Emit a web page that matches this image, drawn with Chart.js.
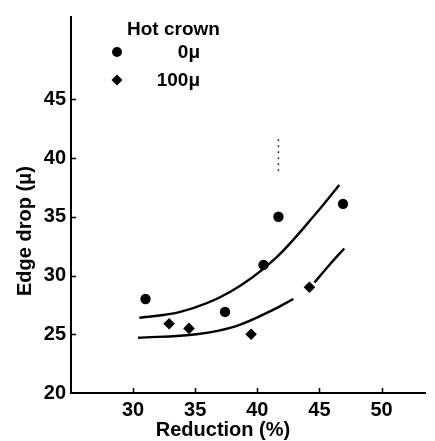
<!DOCTYPE html>
<html>
<head>
<meta charset="utf-8">
<script src="https://cdn.jsdelivr.net/npm/chart.js@4/dist/chart.umd.min.js"></script>
<style>
html,body{margin:0;padding:0;background:#fff;}
#wrap{width:435px;height:441px;position:relative;}
</style>
</head>
<body>
<div id="wrap"><canvas id="c" width="435" height="441"></canvas></div>
<script>
// ---- data ----
const xTicks = [30, 35, 40, 45, 50];
const yTicks = [20, 25, 30, 35, 40, 45];

const crown0X = [31.0, 37.4, 40.5, 41.7, 46.9];
const crown0Y = [28.0, 26.9, 30.9, 35.0, 36.1];

const crown100X = [32.9, 34.5, 39.5, 44.2];
const crown100Y = [25.9, 25.5, 25.0, 29.0];

const upperFitX = [30.5, 33.8, 37.8, 41.5, 44.7, 46.6];
const upperFitY = [26.4, 26.9, 28.6, 31.5, 35.25, 37.7];

const lowerFitAX = [30.4, 35.1, 38.3, 41.3, 42.9];
const lowerFitAY = [24.7, 25.0, 25.7, 27.1, 28.0];
const lowerFitBX = [44.6, 45.8, 47.0];
const lowerFitBY = [29.4, 30.9, 32.3];

const dotMarkX = [41.7, 41.7];
const dotMarkY = [41.6, 38.6];

const legendTitle = 'Hot crown';
const legendLabels = ['0\u03bc', '100\u03bc'];
const xTitle = 'Reduction (%)';
const yTitle = 'Edge drop (\u03bc)';

function pts(xs, ys){ return xs.map((x,i)=>({x:x, y:ys[i]})); }

const FONT = '"Liberation Sans", Arial, sans-serif';

const decor = {
  id: 'decor',
  afterDraw(chart){
    const ctx = chart.ctx;
    const xs = chart.scales.x, ys = chart.scales.y;
    const a = chart.chartArea;
    ctx.save();
    ctx.strokeStyle = '#000';
    ctx.lineWidth = 1.5;
    // inward tick marks
    yTicks.forEach(v=>{
      if (v === ys.min) return;
      const py = Math.round(ys.getPixelForValue(v)) + 0.5;
      ctx.beginPath(); ctx.moveTo(a.left, py); ctx.lineTo(a.left + 5, py); ctx.stroke();
    });
    xTicks.forEach(v=>{
      const px = Math.round(xs.getPixelForValue(v)) + 0.5;
      ctx.beginPath(); ctx.moveTo(px, a.bottom); ctx.lineTo(px, a.bottom - 5); ctx.stroke();
    });
    // axis titles
    ctx.fillStyle = '#000';
    ctx.font = 'bold 20px ' + FONT;
    ctx.textAlign = 'center';
    ctx.textBaseline = 'middle';
    ctx.fillText(xTitle, 223, 430);
    ctx.save();
    ctx.translate(25, 231);
    ctx.rotate(-Math.PI/2);
    ctx.fillText(yTitle, 0, 0);
    ctx.restore();
    // legend
    ctx.font = 'bold 19px ' + FONT;
    ctx.textAlign = 'left';
    ctx.fillText(legendTitle, 127, 30);
    ctx.textAlign = 'right';
    ctx.fillText(legendLabels[0], 200, 53);
    ctx.fillText(legendLabels[1], 200, 81);
    ctx.beginPath(); ctx.arc(117, 52, 5, 0, Math.PI*2); ctx.fill();
    ctx.beginPath();
    ctx.moveTo(117, 74.5); ctx.lineTo(122.5, 80); ctx.lineTo(117, 85.5); ctx.lineTo(111.5, 80); ctx.closePath(); ctx.fill();
    ctx.restore();
  }
};

new Chart(document.getElementById('c'), {
  type: 'scatter',
  data: {
    datasets: [
      { data: pts(upperFitX, upperFitY), showLine: true, borderColor: '#000', borderWidth: 2.4, pointRadius: 0, cubicInterpolationMode: 'monotone', fill: false },
      { data: pts(lowerFitAX, lowerFitAY), showLine: true, borderColor: '#000', borderWidth: 2.4, pointRadius: 0, cubicInterpolationMode: 'monotone', fill: false },
      { data: pts(lowerFitBX, lowerFitBY), showLine: true, borderColor: '#000', borderWidth: 2.4, pointRadius: 0, cubicInterpolationMode: 'monotone', fill: false },
      { data: pts(dotMarkX, dotMarkY), showLine: true, borderColor: '#333', borderWidth: 1.5, borderDash: [2, 4], pointRadius: 0, fill: false },
      { data: pts(crown0X, crown0Y), pointStyle: 'circle', pointRadius: 5.2, backgroundColor: '#000', borderColor: '#000', borderWidth: 0 },
      { data: pts(crown100X, crown100Y), pointStyle: 'rectRot', pointRadius: 5.8, backgroundColor: '#000', borderColor: '#000', borderWidth: 0 }
    ]
  },
  options: {
    responsive: false,
    animation: false,
    layout: { padding: { top: 8, right: 10, left: 0, bottom: 0 } },
    plugins: { legend: { display: false }, tooltip: { enabled: false } },
    scales: {
      x: {
        type: 'linear', min: 25, max: 53.5,
        afterBuildTicks: s => { s.ticks = xTicks.map(v => ({ value: v })); },
        afterFit: s => { s.height = 48; },
        grid: { display: true, drawOnChartArea: false, drawTicks: false },
        border: { display: true, color: '#000', width: 2 },
        ticks: { color: '#000', padding: 5, maxRotation: 0, font: { family: FONT, size: 20, weight: 'bold' } }
      },
      y: {
        type: 'linear', min: 20, max: 52,
        afterBuildTicks: s => { s.ticks = yTicks.map(v => ({ value: v })); },
        afterFit: s => { s.width = 71; },
        grid: { display: true, drawOnChartArea: false, drawTicks: false },
        border: { display: true, color: '#000', width: 2 },
        ticks: { color: '#000', padding: 5, font: { family: FONT, size: 20, weight: 'bold' } }
      }
    }
  },
  plugins: [decor]
});
</script>
</body>
</html>
